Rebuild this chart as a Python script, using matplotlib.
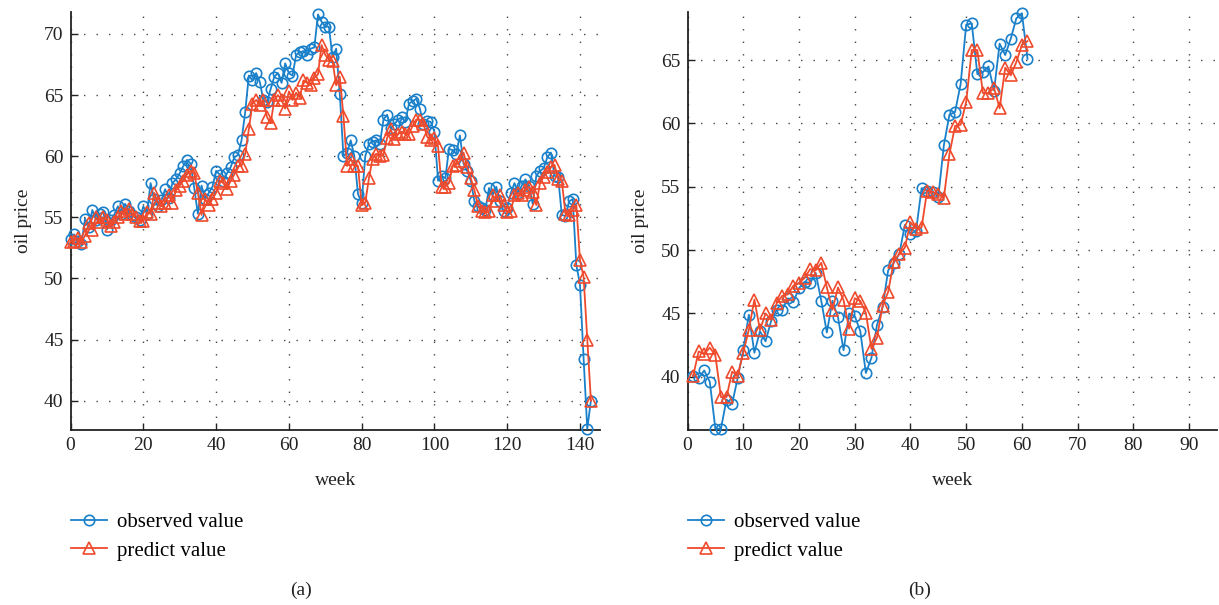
import matplotlib
matplotlib.use("Agg")
import matplotlib.pyplot as plt
import numpy as np

# ---------------- data: panel (a) ----------------
weeks_a = list(range(0, 144))
observed_a = [
    53.2, 53.6, 53.1, 52.8, 54.9, 54.2, 55.6, 54.8, 55.3, 55.4,
    54.0, 54.8, 55.2, 55.9, 55.3, 56.1, 55.5, 55.2, 55.0, 54.8,
    55.9, 55.3, 57.8, 56.5, 55.9, 56.4, 57.3, 56.6, 57.8, 58.1,
    58.6, 59.2, 59.7, 59.4, 57.4, 55.3, 57.6, 56.5, 57.0, 57.5,
    58.8, 58.5, 58.0, 58.6, 59.1, 59.9, 60.1, 61.3, 63.6, 66.6,
    66.2, 66.8, 66.1, 64.6, 64.4, 65.5, 66.5, 66.8, 66.0, 67.6,
    66.8, 66.6, 68.3, 68.5, 68.6, 68.3, 68.8, 68.9, 71.6, 71.0,
    70.6, 70.6, 68.1, 68.8, 65.1, 60.0, 60.3, 61.3, 60.0, 56.9,
    56.2, 60.0, 61.0, 61.2, 61.3, 61.0, 63.0, 63.4, 62.3, 62.6,
    63.0, 63.2, 62.8, 64.3, 64.5, 64.7, 63.9, 62.6, 62.9, 62.8,
    62.0, 58.0, 58.4, 58.2, 60.6, 60.5, 60.2, 61.7, 59.4, 58.8,
    58.0, 56.3, 55.9, 55.8, 55.6, 57.4, 56.8, 57.5, 56.3, 55.5,
    55.8, 57.0, 57.8, 57.0, 57.6, 58.1, 57.6, 56.1, 58.4, 58.8,
    59.0, 59.9, 60.3, 58.4, 58.3, 55.2, 55.1, 56.3, 56.5, 51.1,
    49.5, 43.4, 37.7, 40.0,
]
predicted_a = [
    53.0, 53.1, 53.3, 53.0, 53.5, 54.5, 54.0, 55.0, 54.6, 55.0,
    54.8, 54.3, 54.6, 55.0, 55.5, 55.3, 55.7, 55.3, 55.0, 54.7,
    54.7, 55.4, 55.3, 57.0, 56.2, 55.9, 56.2, 56.8, 56.2, 57.2,
    57.6, 58.0, 58.5, 58.8, 58.6, 57.0, 55.2, 56.5, 56.0, 56.5,
    57.0, 58.0, 57.8, 57.3, 58.0, 58.5, 59.2, 59.2, 60.2, 62.2,
    64.3, 64.6, 64.2, 64.6, 63.2, 62.7, 64.6, 65.0, 64.6, 63.9,
    65.3, 64.6, 65.2, 64.8, 66.2, 66.0, 65.8, 66.4, 66.7, 69.1,
    68.3, 67.9, 67.8, 65.8, 66.5, 63.3, 59.2, 59.8, 59.2, 59.2,
    56.0, 56.2, 58.2, 59.8, 60.2, 60.0, 60.1, 61.5, 62.2, 61.4,
    61.8, 62.0, 61.8, 61.8, 62.5, 63.0, 63.0, 62.6, 61.6, 61.3,
    61.5, 60.8, 57.5, 57.5, 57.8, 59.2, 59.3, 59.6, 60.3, 59.1,
    58.2, 57.2, 55.9, 55.5, 55.4, 55.5, 56.8, 56.3, 56.8, 56.0,
    55.4, 55.5, 56.8, 57.0, 56.8, 57.2, 57.5, 57.1, 56.0, 57.8,
    58.3, 58.7, 59.1, 59.3, 58.1, 58.0, 55.3, 55.2, 55.6, 56.0,
    51.5, 50.1, 45.0, 40.0,
]

# ---------------- data: panel (b) ----------------
weeks_b = list(range(1, 62))
observed_b = [
    40.1, 39.9, 40.5, 39.6, 35.9, 35.9, 38.2, 37.85, 39.9, 42.1,
    44.9, 41.9, 43.6, 42.8, 44.4, 45.3, 45.3, 46.2, 45.9, 47.0,
    47.5, 47.4, 48.2, 46.0, 43.5, 46.0, 44.7, 42.1, 45.0, 44.8,
    43.6, 40.3, 41.5, 44.1, 45.5, 48.4, 49.0, 49.7, 52.0, 51.3,
    51.5, 54.9, 54.7, 54.6, 54.2, 58.3, 60.7, 60.9, 63.1, 67.8,
    67.9, 63.9, 64.05, 64.5, 62.6, 66.3, 65.4, 66.7, 68.3, 68.7,
    65.1,
]
predicted_b = [
    40.05, 42.0, 41.8, 42.3, 41.7, 38.4, 38.4, 40.4, 40.1, 41.9,
    43.7, 46.1, 43.7, 45.0, 44.5, 45.8, 46.4, 46.5, 47.2, 47.4,
    47.8, 48.5, 48.4, 49.0, 47.05, 45.3, 47.05, 46.05, 43.8, 46.2,
    46.0, 45.05, 42.2, 43.1, 45.6, 46.7, 49.1, 49.7, 50.2, 52.2,
    51.7, 51.8, 54.7, 54.6, 54.4, 54.15, 57.6, 59.8, 59.9, 61.7,
    65.8, 65.8, 62.4, 62.4, 62.8, 61.2, 64.4, 63.8, 64.85, 66.2,
    66.5,
]

xticks_a = [0, 20, 40, 60, 80, 100, 120, 140]
yticks_a = [40, 45, 50, 55, 60, 65, 70]
xticks_b = [0, 10, 20, 30, 40, 50, 60, 70, 80, 90]
yticks_b = [40, 45, 50, 55, 60, 65]

series_labels = ["observed value", "predict value"]
x_label = "week"
y_label = "oil price"
captions = ["(a)", "(b)"]

# ---------------- style ----------------
plt.rcParams['font.family'] = ['Liberation Serif', 'DejaVu Serif']
BLUE = '#1a80c9'
RED = '#ef4a2c'

fig = plt.figure(figsize=(12.19, 6.05), dpi=100)

W, H = 1219.0, 605.0
ax_a = fig.add_axes([70.5 / W, 1 - 430 / H, (600 - 70.5) / W, (430 - 12) / H])
ax_b = fig.add_axes([687.5 / W, 1 - 430 / H, (1217 - 687.5) / W, (430 - 12) / H])


def style_axes(ax, xticks, yticks, xlim, ylim):
    ax.set_xlim(*xlim)
    ax.set_ylim(*ylim)
    ax.set_xticks(xticks)
    ax.set_yticks(yticks)
    for s in ['top', 'right']:
        ax.spines[s].set_visible(False)
    for s in ['left', 'bottom']:
        ax.spines[s].set_linewidth(1.3)
        ax.spines[s].set_color('#222222')
    ax.tick_params(direction='in', length=5, width=1.0, labelsize=14,
                   colors='#222222', pad=5)
    ax.grid(True, which='major', color='#444444', linestyle=(0, (1, 8)),
            linewidth=1.0)
    ax.set_axisbelow(True)
    ax.set_xlabel(x_label, fontsize=14, labelpad=13, color='#222222')
    ax.set_ylabel(y_label, fontsize=14, labelpad=9, color='#222222')


def draw(ax, x, obs, pred):
    l1, = ax.plot(x, obs, color=BLUE, linewidth=1.3, marker='o', markersize=7.5,
                  markerfacecolor='none', markeredgewidth=1.2,
                  label=series_labels[0], clip_on=False, zorder=3)
    l2, = ax.plot(x, pred, color=RED, linewidth=1.3, marker='^', markersize=8.5,
                  markerfacecolor='none', markeredgewidth=1.2,
                  label=series_labels[1], clip_on=False, zorder=4)
    return l1, l2


draw(ax_a, weeks_a, observed_a, predicted_a)
style_axes(ax_a, xticks_a, yticks_a, (0, 145.5), (37.6, 71.8))
draw(ax_b, weeks_b, observed_b, predicted_b)
style_axes(ax_b, xticks_b, yticks_b, (0, 95), (35.8, 68.8))

for ax in (ax_a, ax_b):
    ax.legend(loc='upper left', bbox_to_anchor=(-0.014, -0.178), frameon=False,
              fontsize=15, handlelength=1.7, handletextpad=0.5,
              labelspacing=0.42, borderaxespad=0.0)

fig.text(301 / W, 1 - 590 / H, captions[0], ha='center', va='center',
         fontsize=14, color='#222222')
fig.text(920 / W, 1 - 590 / H, captions[1], ha='center', va='center',
         fontsize=14, color='#222222')

fig.savefig('out.png', dpi=100)
